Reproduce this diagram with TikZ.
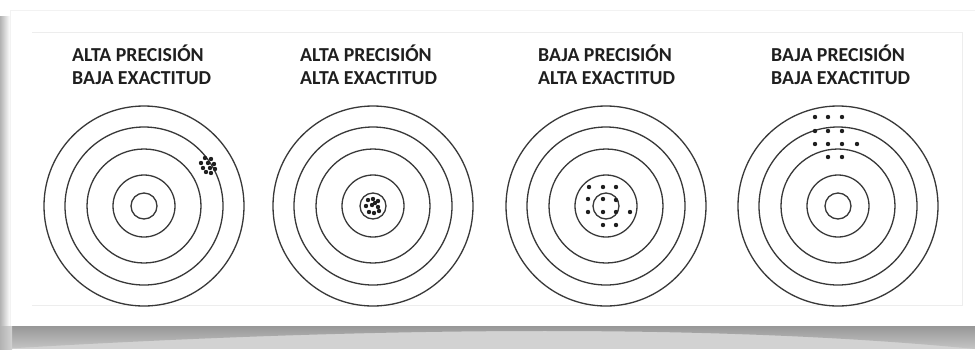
\documentclass[tikz,border=0pt]{standalone}
\usepackage{fontspec}
\setmainfont{Carlito}
\begin{document}
\begin{tikzpicture}[x=1pt,y=-1pt,
  ring/.style={draw=black!78, line width=1.3pt},
  shot/.style={fill=black!88},
  title/.style={font=\bfseries\fontsize{19.8}{23}\selectfont, align=left, anchor=base west, inner sep=0pt, text=black!88}]
\useasboundingbox (0,0) rectangle (975,349);
\fill[white] (0,0) rectangle (975,349);
% shadows of the card
\shade[left color=gray!60, right color=white] (0,16) rectangle (10,349);
\fill[gray!35] (0,326) rectangle (975,349);
\shade[top color=gray!85, bottom color=gray!45] (0,326) -- (975,326) -- (975,349) .. controls (720,324) and (380,326) .. (0,349) -- cycle;
\shade[left color=gray!60, right color=gray!35] (0,326) rectangle (12,349);
% card
\fill[white] (10,10) rectangle (975,326);
\draw[gray!10, line width=0.6pt] (10,326) -- (10,10) -- (975,10);
% inner frame
\draw[gray!14, line width=0.7pt] (32,32) -- (962,32) -- (962,305) -- (32,305);

% targets
\foreach \cx/\nm in {144/a, 373/b, 606/c, 838/d} {
  \coordinate (\nm) at (\cx,206);
  \foreach \r in {100,79,57,31,13}
    \draw[ring] (\nm) circle (\r);
}

% titles (base = baseline of the last line)
\node[title] (ta) at (72,84) {ALTA PRECISIÓN\\BAJA EXACTITUD};
\node[title] (tb) at (300,84) {ALTA PRECISIÓN\\ALTA EXACTITUD};
\node[title] (tc) at (538,84) {BAJA PRECISIÓN\\ALTA EXACTITUD};
\node[title] (td) at (771,84) {BAJA PRECISIÓN\\BAJA EXACTITUD};

% shots: high precision, low accuracy
\foreach \dx/\dy in {-3/-7, 3/-6, -7/-2, 0/-2, 6/-1, -5/3, 2/3, 7/4, -2/7, 3/8}
  \fill[shot] (208+\dx,165+\dy) circle (2.2);
% shots: high precision, high accuracy
\foreach \dx/\dy in {-5/-6, 0/-7, 5/-5, -7/0, -1/-1, 5/1, -4/6, 1/7, 6/5, 2/-3}
  \fill[shot] (373+\dx,206+\dy) circle (2.2);
% shots: low precision, high accuracy
\foreach \px/\py in {589/187, 603/187, 616/187, 588/199, 603/199, 616/200,
  588/212, 603/212, 616/212, 630/212, 603/225, 616/225}
  \fill[shot] (\px,\py) circle (2.2);
% shots: low precision, low accuracy
\foreach \px/\py in {815/117, 828/117, 842/117, 815/131, 828/131, 842/131,
  815/144, 828/144, 842/144, 857/144, 828/157, 842/157}
  \fill[shot] (\px,\py) circle (2.2);
\end{tikzpicture}
\end{document}
